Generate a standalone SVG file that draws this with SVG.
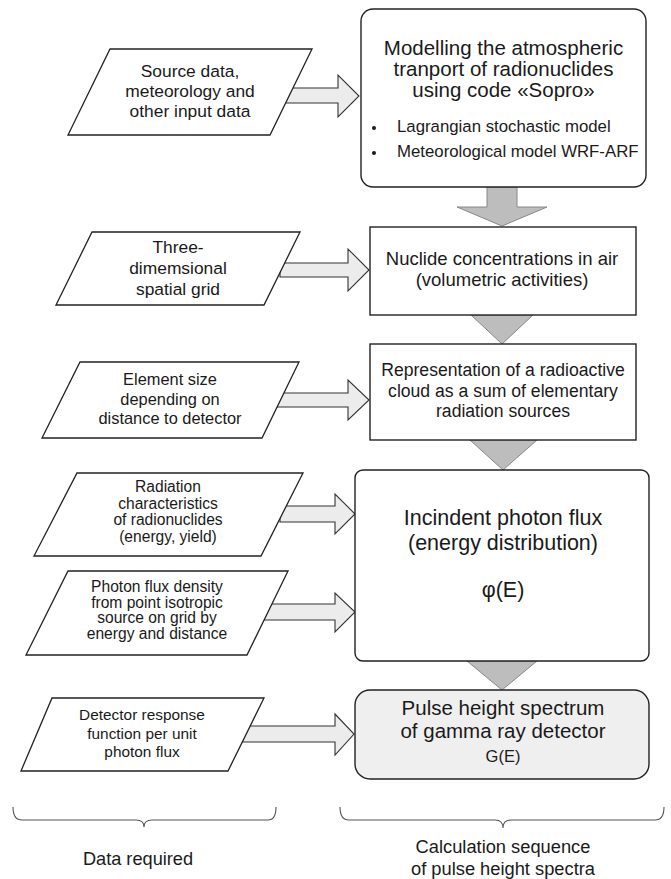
<svg xmlns="http://www.w3.org/2000/svg" width="671" height="879" viewBox="0 0 671 879">
<style>
text{font-family:"Liberation Sans",Arial,sans-serif;fill:#1a1a1a;text-anchor:middle}
.box{fill:#fff;stroke:#222;stroke-width:1.4}
.para{fill:#fff;stroke:#222;stroke-width:1.3}
.ra{fill:#ececec;stroke:#333;stroke-width:1.1}
.da{fill:#bdbdbd;stroke:#888;stroke-width:1}
.brace{fill:none;stroke:#555;stroke-width:1.1}
.t17{font-size:17.4px}
</style>
<rect width="671" height="879" fill="#fff"/>
<g id="connectors">
<path class="ra" d="M285,88 H338 V75 L359,96 L338,117 V103 H285 Z"/>
<path class="ra" d="M280,263 H348 V249 L369,270 L348,291 V277 H280 Z"/>
<path class="ra" d="M275,393 H348 V380 L369,400 L348,420 V407 H275 Z"/>
<path class="ra" d="M280,506 H335 V494 L355,514 L335,534 V522 H280 Z"/>
<path class="ra" d="M260,604 H335 V593 L355,612 L335,632 V620 H260 Z"/>
<path class="ra" d="M240,726 H335 V714 L354,734 L335,755 V742 H240 Z"/>
<path class="da" d="M487,187 V207 H457 L502,226 L547,207 H517 V187 Z"/>
<path class="da" d="M471,315 L533,315 L502,344 Z"/>
<path class="da" d="M470,440 L537,440 L503,470 Z"/>
<path class="da" d="M467,661 L537,661 L502,690 Z"/>
</g>
<g id="box1">
<rect class="box" x="361" y="9" width="285" height="178" rx="12"/>
<text x="503.5" y="55" font-size="20.5">Modelling the atmospheric</text>
<text x="503.5" y="76" font-size="20.5">tranport of radionuclides</text>
<text x="503.5" y="97" font-size="20.5">using code «Sopro»</text>
<circle cx="374" cy="128" r="2" fill="#1a1a1a"/>
<text x="397" y="132" font-size="16.8" style="text-anchor:start">Lagrangian stochastic model</text>
<circle cx="374" cy="153" r="2" fill="#1a1a1a"/>
<text x="397" y="157" font-size="16.8" style="text-anchor:start">Meteorological model WRF-ARF</text>
</g>
<g id="box2">
<rect class="box" x="370" y="227" width="266" height="88"/>
<text x="502" y="265" font-size="18.5">Nuclide concentrations in air</text>
<text x="502" y="286" font-size="18.5">(volumetric activities)</text>
</g>
<g id="box3">
<rect class="box" x="370" y="344" width="266" height="96"/>
<text x="503" y="376" font-size="17.6">Representation of a radioactive</text>
<text x="503" y="396.5" font-size="17.6">cloud as a sum of elementary</text>
<text x="503" y="417" font-size="17.6">radiation sources</text>
</g>
<g id="box4">
<rect class="box" x="355" y="470" width="294" height="191" rx="8"/>
<text x="503" y="525" font-size="21.5">Incindent photon flux</text>
<text x="503" y="550" font-size="21.5">(energy distribution)</text>
<text x="503" y="597" font-size="21.5">φ(E)</text>
</g>
<g id="box5">
<rect class="box" x="355" y="690" width="294" height="89" rx="15" style="fill:#efefef"/>
<text x="503" y="715" font-size="20.5">Pulse height spectrum</text>
<text x="503" y="738" font-size="20.5">of gamma ray detector</text>
<text x="503" y="762" font-size="16.5">G(E)</text>
</g>
<g id="in1">
<polygon class="para" points="110,49 312,49 270,135 68,135"/>
<text class="t17" x="190" y="77">Source data,</text>
<text class="t17" x="190" y="97">meteorology and</text>
<text class="t17" x="190" y="117">other input data</text>
</g>
<g id="in2">
<polygon class="para" points="92,232 300,232 264,305 56,305"/>
<text class="t17" x="178" y="253">Three-</text>
<text class="t17" x="178" y="274">dimemsional</text>
<text class="t17" x="178" y="295">spatial grid</text>
</g>
<g id="in3">
<polygon class="para" points="80,362 299,362 262,438 42,438"/>
<text x="170" y="385" font-size="16.4">Element size</text>
<text x="170" y="405" font-size="16.4">depending on</text>
<text x="170" y="424" font-size="16.4">distance to detector</text>
</g>
<g id="in4">
<polygon class="para" points="77,473 303,473 261,556 34,556"/>
<text x="168" y="492" font-size="15.6">Radiation</text>
<text x="168" y="508.7" font-size="15.6">characteristics</text>
<text x="168" y="525.4" font-size="15.6">of radionuclides</text>
<text x="168" y="542" font-size="15.6">(energy, yield)</text>
</g>
<g id="in5">
<polygon class="para" points="68,571 288,571 247,655 26,655"/>
<text x="157" y="592" font-size="15.6">Photon flux density</text>
<text x="157" y="607.7" font-size="15.6">from point isotropic</text>
<text x="157" y="623.4" font-size="15.6">source on grid by</text>
<text x="157" y="639" font-size="15.6">energy and distance</text>
</g>
<g id="in6">
<polygon class="para" points="52,698 264,698 228,771 21,771"/>
<text x="142" y="720" font-size="15.4">Detector response</text>
<text x="142" y="738.5" font-size="15.4">function per unit</text>
<text x="142" y="757" font-size="15.4">photon flux</text>
</g>
<g id="brace-left">
<path class="brace" d="M13,807 Q13,820 22,820 H136 Q144,820 144,827 Q144,820 152,820 H268 Q276,820 276,807"/>
<text x="138" y="865" font-size="18.2">Data required</text>
</g>
<g id="brace-right">
<path class="brace" d="M340,807 Q340,820 349,820 H495 Q503,820 503,828 Q503,820 511,820 H655 Q664,820 664,807"/>
<text x="503" y="853" font-size="18.3">Calculation sequence</text>
<text x="503" y="875" font-size="18.3">of pulse height spectra</text>
</g>
</svg>
